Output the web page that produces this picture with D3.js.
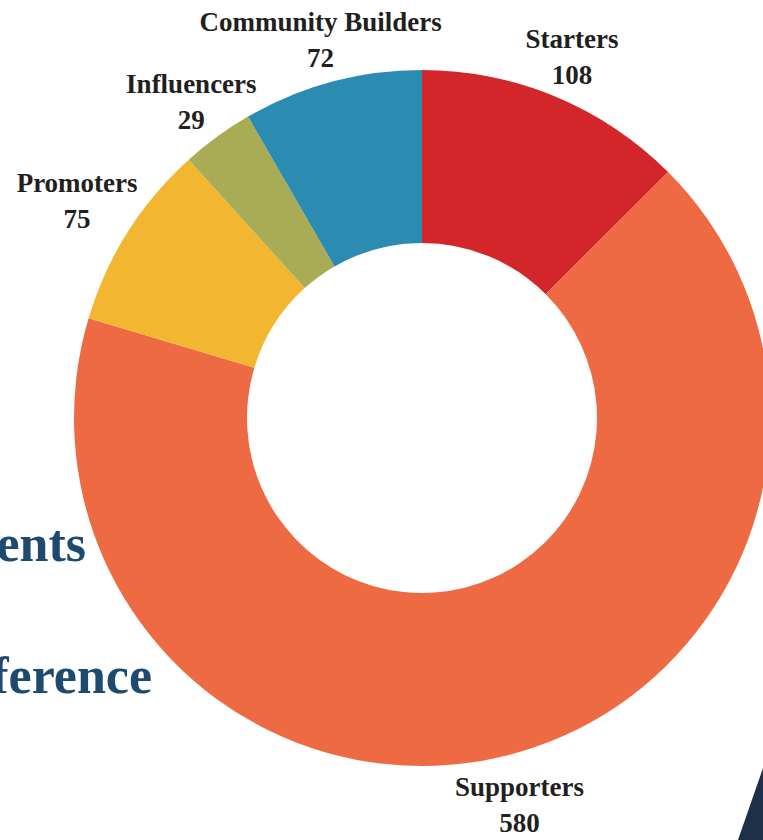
<!DOCTYPE html>
<html>
<head>
<meta charset="utf-8">
<script src="https://cdn.jsdelivr.net/npm/d3@7"></script>
<style>
  body { margin: 0; background: #fff; }
  svg { display: block; }
</style>
</head>
<body>
<div id="chart"></div>
<script>
// segment data, clockwise from 12 o'clock
const categories = [ "Starters", "Supporters", "Promoters", "Influencers", "Community Builders" ];
const values = [ 108, 580, 75, 29, 72 ];
const colors = [ "#d3262b", "#ee6a43", "#f2b630", "#a8ad55", "#2c8bb1" ];

// page-title fragments sitting behind the donut
const backTexts = [ "ents", "ference" ];

const width = 763, height = 840;
const cx = 422, cy = 418;
const outerR = 348, innerR = 175;

const svg = d3.select( "#chart" )
  .append( "svg" )
  .attr( "width", width )
  .attr( "height", height );

// background title fragments
svg.selectAll( "text.back" )
  .data( backTexts )
  .enter()
  .append( "text" )
    .attr( "class", "back" )
    .attr( "x", ( d, i ) => i === 0 ? 86 : 152 )
    .attr( "y", ( d, i ) => i === 0 ? 561 : 693 )
    .attr( "text-anchor", "end" )
    .style( "font-family", "'Liberation Serif', 'DejaVu Serif', serif" )
    .style( "font-weight", "bold" )
    .style( "font-size", "52px" )
    .style( "fill", "#1f4a70" )
    .text( d => d );

// dark corner shape
svg.append( "path" )
  .attr( "d", "M738,840 L763,768 L763,840 Z" )
  .attr( "fill", "#1c3148" );

const pie = d3.pie()
  .sort( null )
  .value( d => d.value );

const data = categories.map( ( c, i ) => ( { name: c, value: values[ i ], color: colors[ i ] } ) );
const arcs = pie( data );

const arc = d3.arc()
  .innerRadius( innerR )
  .outerRadius( outerR );

// label ring; a couple of labels sit a little further out
function labelPos( d ) {
  let r = 392;
  if ( d.data.name === "Promoters" ) r = 408;
  if ( d.data.name === "Supporters" ) r = 398;
  return d3.arc().innerRadius( r ).outerRadius( r ).centroid( d );
}

const g = svg.append( "g" )
  .attr( "transform", `translate(${cx},${cy})` );

g.selectAll( "path" )
  .data( arcs )
  .enter()
  .append( "path" )
    .attr( "d", arc )
    .attr( "fill", d => d.data.color );

const labels = g.selectAll( "g.label" )
  .data( arcs )
  .enter()
  .append( "g" )
    .attr( "class", "label" )
    .attr( "transform", d => `translate(${labelPos( d )})` )
    .style( "font-family", "'Liberation Serif', 'DejaVu Serif', serif" )
    .style( "font-weight", "bold" )
    .style( "font-size", "27px" )
    .style( "fill", "#231f20" )
    .attr( "text-anchor", "middle" );

labels.append( "text" )
  .attr( "y", -8 )
  .text( d => d.data.name );

labels.append( "text" )
  .attr( "y", 28 )
  .text( d => d.data.value );
</script>
</body>
</html>
